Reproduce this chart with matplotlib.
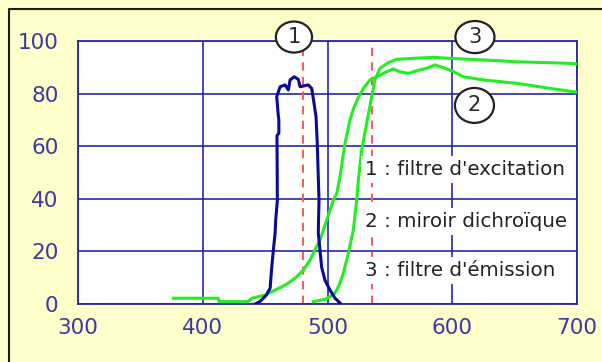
import matplotlib
matplotlib.use("Agg")
import matplotlib.pyplot as plt
from matplotlib.patches import Ellipse
from matplotlib.lines import Line2D

# ---- data ----
excit_wl = [442, 446, 451, 454, 455.3, 456.6, 458, 458.5, 459.8, 459.5, 461, 461, 460.5, 459.3, 462, 466, 468.6,
            470, 473.4, 476.6, 478, 484.6, 487.3, 488.6, 490.8, 491.8, 492.6, 493.2, 492.6, 494, 495.3, 498,
            502, 506, 510]
excit_val = [0, 1, 3.4, 6, 14, 20.5, 27, 32, 39.5, 64, 65, 70, 72, 78.8, 82.6, 83.3, 81.4,
             85.2, 86.4, 85.4, 82.6, 83.3, 82, 78.2, 71.2, 61, 48.4, 39.5, 27, 20.5, 14, 9,
             5.3, 2.2, 0.4]

dichro_wl = [376.5, 412.5, 413, 436, 439.5, 450, 458, 466, 474, 480.6, 486, 491.3, 494, 499.4, 504.7,
             507.4, 510, 512, 514, 518, 521, 524.7, 528.7, 534, 539.4, 547.4, 552.7, 558, 564.8,
             571.5, 579.5, 586.2, 592.8, 600.8, 608.9, 624.9, 651.6, 678.4, 700]
dichro_val = [2.2, 2.2, 0.9, 0.9, 2.2, 3.4, 5.3, 7.2, 9.8, 12.9, 16.7, 22, 24.3, 32, 39.5,
              42, 48.4, 54.8, 61, 70, 74.5, 78.5, 82, 85.2, 86.4, 88.3, 89.4, 88.3, 87.7,
              88.7, 89.6, 90.9, 89.9, 88.4, 86.4, 85.2, 83.9, 82, 80.5]

emis_wl = [488.6, 498, 502, 505, 507.4, 510, 512.7, 516.7, 520.7, 523.4, 524.7, 527.4, 531.4, 535.4,
           538, 542, 548.7, 555.4, 568.8, 584.8, 598, 633, 651.6, 689, 700]
emis_val = [0.9, 1.8, 2.8, 3.5, 5.3, 8, 11.7, 19.3, 28.1, 39.5, 47, 58.6, 68.7, 78.8,
            85.2, 89.6, 91.8, 93, 93.4, 93.8, 93.4, 92.6, 92.1, 91.6, 91.3]

marker_wl = [480, 536]

x_ticks = [300, 400, 500, 600, 700]
y_ticks = [0, 20, 40, 60, 80, 100]

labels = ["1 : filtre d'excitation", "2 : miroir dichroïque", "3 : filtre d'émission"]
circle_nums = ["1", "2", "3"]

# ---- style ----
BG = "#FFFFCC"
GRID = "#2828A8"
TICKC = "#3A3AA0"
BLUE = "#0A0A96"
GREEN = "#22EE22"
RED = "#F06060"

W, H = 602, 362
fig = plt.figure(figsize=(W / 100, H / 100), dpi=100, facecolor=BG)
ax = fig.add_axes([78 / W, (H - 304) / H, (577 - 78) / W, (304 - 41) / H])
ax.set_facecolor("white")

ax.set_xlim(300, 700)
ax.set_ylim(0, 100)
ax.set_xticks(x_ticks)
ax.set_yticks(y_ticks)
ax.tick_params(length=0, labelsize=15.5, colors=TICKC)
ax.tick_params(axis="x", pad=10)
ax.tick_params(axis="y", pad=14)
for lab in ax.get_xticklabels() + ax.get_yticklabels():
    lab.set_family("DejaVu Sans")
for s in ax.spines.values():
    s.set_color(GRID)
    s.set_linewidth(1.3)

ax.grid(True, color=GRID, linewidth=1.2, zorder=1)
ax.set_axisbelow(True)

for m in marker_wl:
    ax.axvline(m, color=RED, linestyle=(0, (4, 3)), linewidth=1.5, zorder=2)

ax.plot(excit_wl, excit_val, color=BLUE, linewidth=2.2, zorder=4)
ax.plot(dichro_wl, dichro_val, color=GREEN, linewidth=2.2, zorder=3)
ax.plot(emis_wl, emis_val, color=GREEN, linewidth=2.2, zorder=3)

# text labels with white boxes
label_y = [51, 31.2, 12.9]
for t, yy in zip(labels, label_y):
    ax.text(530, yy, t, ha="left", va="center", fontsize=14.3, color="#222222",
            family="DejaVu Sans", zorder=5,
            bbox=dict(boxstyle="square,pad=0.2", facecolor="white", edgecolor="none"))

# circled numbers
circ = [(473.1, 101.5, 29, 11.8), (617.8, 75.5, 31.3, 13.3), (618.2, 101.5, 31.3, 12.2)]
for num, (cx, cy, w, h) in zip(circle_nums, circ):
    e = Ellipse((cx, cy), w, h, facecolor="white", edgecolor="#222222", linewidth=1.6,
                zorder=6, clip_on=False)
    ax.add_patch(e)
    ax.text(cx, cy, num, ha="center", va="center", fontsize=15, color="#2a2a2a",
            family="DejaVu Sans", zorder=7, clip_on=False)

# outer border
fig.add_artist(Line2D([9 / W, 9 / W, 1.0], [0, (H - 9) / H, (H - 9) / H],
                      transform=fig.transFigure, color="#1a1a1a", linewidth=1.5))

fig.savefig("out.png", dpi=100, facecolor=BG)
